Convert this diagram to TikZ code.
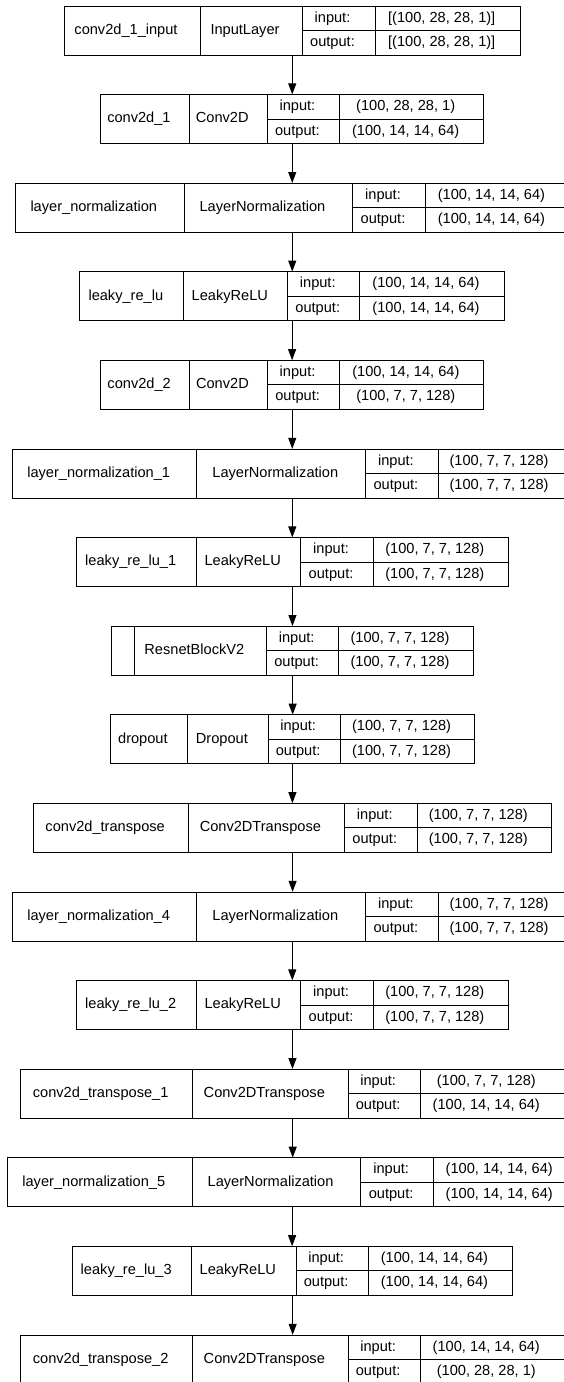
\documentclass[tikz,border=0pt]{standalone}
\usepackage{fontspec}
\setmainfont{Liberation Sans}
\usetikzlibrary{fit,arrows.meta}

\begin{document}
\begin{tikzpicture}[x=1pt,y=-1pt,
   cell/.style={draw,line width=1pt,anchor=north west,inner sep=0pt,outer sep=0pt,
     font=\fontsize{14.6pt}{17pt}\selectfont,text height=10.5pt,text depth=3pt,
     execute at end node={\kern12pt}},
   arr/.style={line width=1pt,-{Triangle[length=11pt,width=8pt]}}]
 \useasboundingbox (0,0) rectangle (564,1382);
 \clip (0,0) rectangle (564,1382);

 % one row of the model plot per layer
 \foreach \k/\nm/\cl/\xa/\xb/\xc/\xd/\xe/\vin/\vout in {
   1/conv2d\_1\_input/InputLayer/64/200/302/375/520.5/{[(100, 28, 28, 1)]}/{[(100, 28, 28, 1)]},
   2/conv2d\_1/Conv2D/100.7/189.2/267.3/339.6/483.8/{(100, 28, 28, 1)}/{(100, 14, 14, 64)},
   3/layer\_normalization/LayerNormalization/15.1/184.5/352.5/425.5/569.4/{(100, 14, 14, 64)}/{(100, 14, 14, 64)},
   4/leaky\_re\_lu/LeakyReLU/79.9/183.8/287.8/359.7/504.3/{(100, 14, 14, 64)}/{(100, 14, 14, 64)},
   5/conv2d\_2/Conv2D/100.7/189.6/267.3/339.9/483.8/{(100, 14, 14, 64)}/{(100, 7, 7, 128)},
   6/layer\_normalization\_1/LayerNormalization/12.6/196.8/365.8/438.1/572/{(100, 7, 7, 128)}/{(100, 7, 7, 128)},
   7/leaky\_re\_lu\_1/LeakyReLU/76.6/196.8/300.7/373.4/508.3/{(100, 7, 7, 128)}/{(100, 7, 7, 128)},
   8/{}/ResnetBlockV2/111.9/134.2/266.5/338.8/473.4/{(100, 7, 7, 128)}/{(100, 7, 7, 128)},
   9/dropout/Dropout/110/187.8/268/340.3/474.8/{(100, 7, 7, 128)}/{(100, 7, 7, 128)},
   10/conv2d\_transpose/Conv2DTranspose/33.8/188.5/344.2/417.3/551.4/{(100, 7, 7, 128)}/{(100, 7, 7, 128)},
   11/layer\_normalization\_4/LayerNormalization/12.6/196.8/365.8/438.1/572/{(100, 7, 7, 128)}/{(100, 7, 7, 128)},
   12/leaky\_re\_lu\_2/LeakyReLU/76.6/196.8/300.7/373.4/508.3/{(100, 7, 7, 128)}/{(100, 7, 7, 128)},
   13/conv2d\_transpose\_1/Conv2DTranspose/20.9/192.4/348.2/420.1/564.5/{(100, 7, 7, 128)}/{(100, 14, 14, 64)},
   14/layer\_normalization\_5/LayerNormalization/7.2/192.4/360.8/433.5/577/{(100, 14, 14, 64)}/{(100, 14, 14, 64)},
   15/leaky\_re\_lu\_3/LeakyReLU/72.7/191.7/296/368.3/512.6/{(100, 14, 14, 64)}/{(100, 14, 14, 64)},
   16/conv2d\_transpose\_2/Conv2DTranspose/20.9/192.4/348.2/420.1/564.5/{(100, 14, 14, 64)}/{(100, 28, 28, 1)}}
 {
   \pgfmathsetmacro\ytop{6+88.6*(\k-1)}
   \pgfmathsetmacro\ymid{\ytop+24.5}
   \node[cell,minimum width={(\xb-\xa)*1pt},minimum height=49pt] (n\k) at (\xa,\ytop) {\nm};
   \node[cell,minimum width={(\xc-\xb)*1pt},minimum height=49pt] (c\k) at (\xb,\ytop) {\cl};
   \node[cell,minimum width={(\xd-\xc)*1pt},minimum height=24.5pt] (i\k) at (\xc,\ytop) {input:};
   \node[cell,minimum width={(\xd-\xc)*1pt},minimum height=24.5pt] (o\k) at (\xc,\ymid) {output:};
   \node[cell,minimum width={(\xe-\xd)*1pt},minimum height=24.5pt] (vi\k) at (\xd,\ytop) {\vin};
   \node[cell,minimum width={(\xe-\xd)*1pt},minimum height=24.5pt] (vo\k) at (\xd,\ymid) {\vout};
   \node[fit=(n\k)(vo\k),inner sep=0pt] (b\k) {};
 }

 \foreach \k [count=\j from 2] in {1,...,15}
   \draw[arr] (b\k.south) -- (b\k.south |- b\j.north);
\end{tikzpicture}
\end{document}
